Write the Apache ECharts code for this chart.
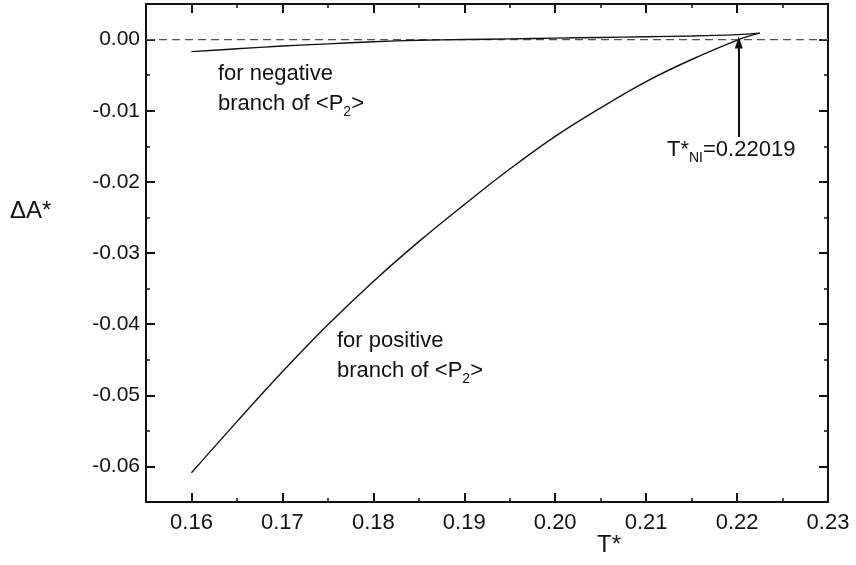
<!DOCTYPE html>
<html>
<head>
<meta charset="utf-8">
<script src="https://cdn.jsdelivr.net/npm/echarts@6/dist/echarts.min.js"></script>
<style>html,body{margin:0;padding:0;background:#fff}#c{width:856px;height:565px}</style>
</head>
<body>
<div id="c"></div>
<script>
// ---- data ----
const xMajorTicks = [0.16, 0.17, 0.18, 0.19, 0.20, 0.21, 0.22, 0.23];
const yMajorTicks = [0.00, -0.01, -0.02, -0.03, -0.04, -0.05, -0.06];
const positiveT = [0.160, 0.165, 0.170, 0.175, 0.180, 0.185, 0.190, 0.195, 0.200, 0.205, 0.210, 0.215, 0.22019, 0.2225];
const positiveA = [-0.0609, -0.0537, -0.0467, -0.0401, -0.0340, -0.0284, -0.0232, -0.0182, -0.0136, -0.0096, -0.0059, -0.0028, 0.0000, 0.0009];
const negativeT = [0.160, 0.165, 0.170, 0.175, 0.180, 0.185, 0.190, 0.195, 0.200, 0.205, 0.210, 0.215, 0.220, 0.2225];
const negativeA = [-0.0017, -0.0013, -0.0009, -0.0006, -0.0003, -0.0001, 0.0000, 0.0001, 0.0002, 0.0003, 0.0004, 0.0005, 0.0007, 0.0009];
const transitionT = 0.22019;
const arrowFromA = -0.0137;
const arrowToA = -0.0004;
const xRange = [0.155, 0.23];
const yRange = [-0.065, 0.005];

const FONT = 'Liberation Sans, Arial, sans-serif';
const INK = '#111';

function zip(a, b) { return a.map((v, i) => [v, b[i]]); }

const chart = echarts.init(document.getElementById('c'), null, {renderer: 'canvas'});

function xAx(pos, major, showLine) {
  return {
    type: 'value', position: pos, min: xRange[0], max: xRange[1],
    interval: 0.005,
    axisLine: {show: showLine, onZero: false, lineStyle: {color: INK, width: 2}},
    axisTick: major
      ? {show: true, inside: true, length: 9, customValues: xMajorTicks, lineStyle: {color: INK, width: 2}}
      : {show: true, inside: true, length: 4, lineStyle: {color: INK, width: 1.5}},
    axisLabel: (major && pos === 'bottom')
      ? {show: true, customValues: xMajorTicks, margin: 10, fontSize: 22, fontFamily: FONT, color: INK,
         formatter: v => v.toFixed(2)}
      : {show: false},
    splitLine: {show: false}
  };
}
function yAx(pos, major, showLine) {
  return {
    type: 'value', position: pos, min: yRange[0], max: yRange[1],
    interval: 0.005,
    axisLine: {show: showLine, onZero: false, lineStyle: {color: INK, width: 2}},
    axisTick: major
      ? {show: true, inside: true, length: 9, customValues: yMajorTicks, lineStyle: {color: INK, width: 2}}
      : {show: true, inside: true, length: 4, lineStyle: {color: INK, width: 1.5}},
    axisLabel: (major && pos === 'left')
      ? {show: true, customValues: yMajorTicks, margin: 6, fontSize: 21, fontFamily: FONT, color: INK,
         formatter: v => v.toFixed(2)}
      : {show: false},
    splitLine: {show: false}
  };
}

const option = {
  backgroundColor: '#fff',
  animation: false,
  grid: {left: 146, right: 28, top: 4, bottom: 63, containLabel: false},
  xAxis: [xAx('bottom', true, true), xAx('bottom', false, false), xAx('top', true, true), xAx('top', false, false)],
  yAxis: [yAx('left', true, true), yAx('left', false, false), yAx('right', true, true), yAx('right', false, false)],
  series: [
    {
      type: 'line', name: 'zero', xAxisIndex: 0, yAxisIndex: 0,
      data: [[xRange[0], 0], [xRange[1], 0]], showSymbol: false, symbol: 'none',
      lineStyle: {color: '#555', width: 1.2, type: [8, 5]}, silent: true
    },
    {
      type: 'line', name: 'positive', xAxisIndex: 0, yAxisIndex: 0,
      data: zip(positiveT, positiveA), showSymbol: false, symbol: 'none', smooth: 0.4,
      lineStyle: {color: INK, width: 1.4},
      markLine: {
        silent: true, symbol: ['none', 'triangle'], symbolSize: [8, 12],
        label: {show: false},
        lineStyle: {color: INK, width: 2, type: 'solid'},
        data: [[{coord: [transitionT, arrowFromA]}, {coord: [transitionT, arrowToA]}]]
      }
    },
    {
      type: 'line', name: 'negative', xAxisIndex: 0, yAxisIndex: 0,
      data: zip(negativeT, negativeA), showSymbol: false, symbol: 'none', smooth: 0.4,
      lineStyle: {color: INK, width: 1.4}
    }
  ],
  graphic: [
    {type: 'text', left: 218, top: 59, style: {
      text: 'for negative\nbranch of <P{s|2}>', fontSize: 22, fontFamily: FONT, fill: INK, lineHeight: 30,
      rich: {s: {fontSize: 14, fontFamily: FONT, fill: INK, verticalAlign: 'bottom', lineHeight: 30}}}},
    {type: 'text', left: 337, top: 326, style: {
      text: 'for positive\nbranch of <P{s|2}>', fontSize: 22, fontFamily: FONT, fill: INK, lineHeight: 30,
      rich: {s: {fontSize: 14, fontFamily: FONT, fill: INK, verticalAlign: 'bottom', lineHeight: 30}}}},
    {type: 'text', left: 667, top: 135, style: {
      text: 'T*{s|NI}=0.22019', fontSize: 22, fontFamily: FONT, fill: INK, lineHeight: 30,
      rich: {s: {fontSize: 14, fontFamily: FONT, fill: INK, verticalAlign: 'bottom', lineHeight: 30}}}},
    {type: 'text', left: 597, top: 533, style: {text: 'T*', fontSize: 24, fontFamily: FONT, fill: INK}},
    {type: 'text', left: 10, top: 199, style: {text: 'ΔA*', fontSize: 24, fontFamily: FONT, fill: INK}}
  ]
};
chart.setOption(option);
</script>
</body>
</html>
